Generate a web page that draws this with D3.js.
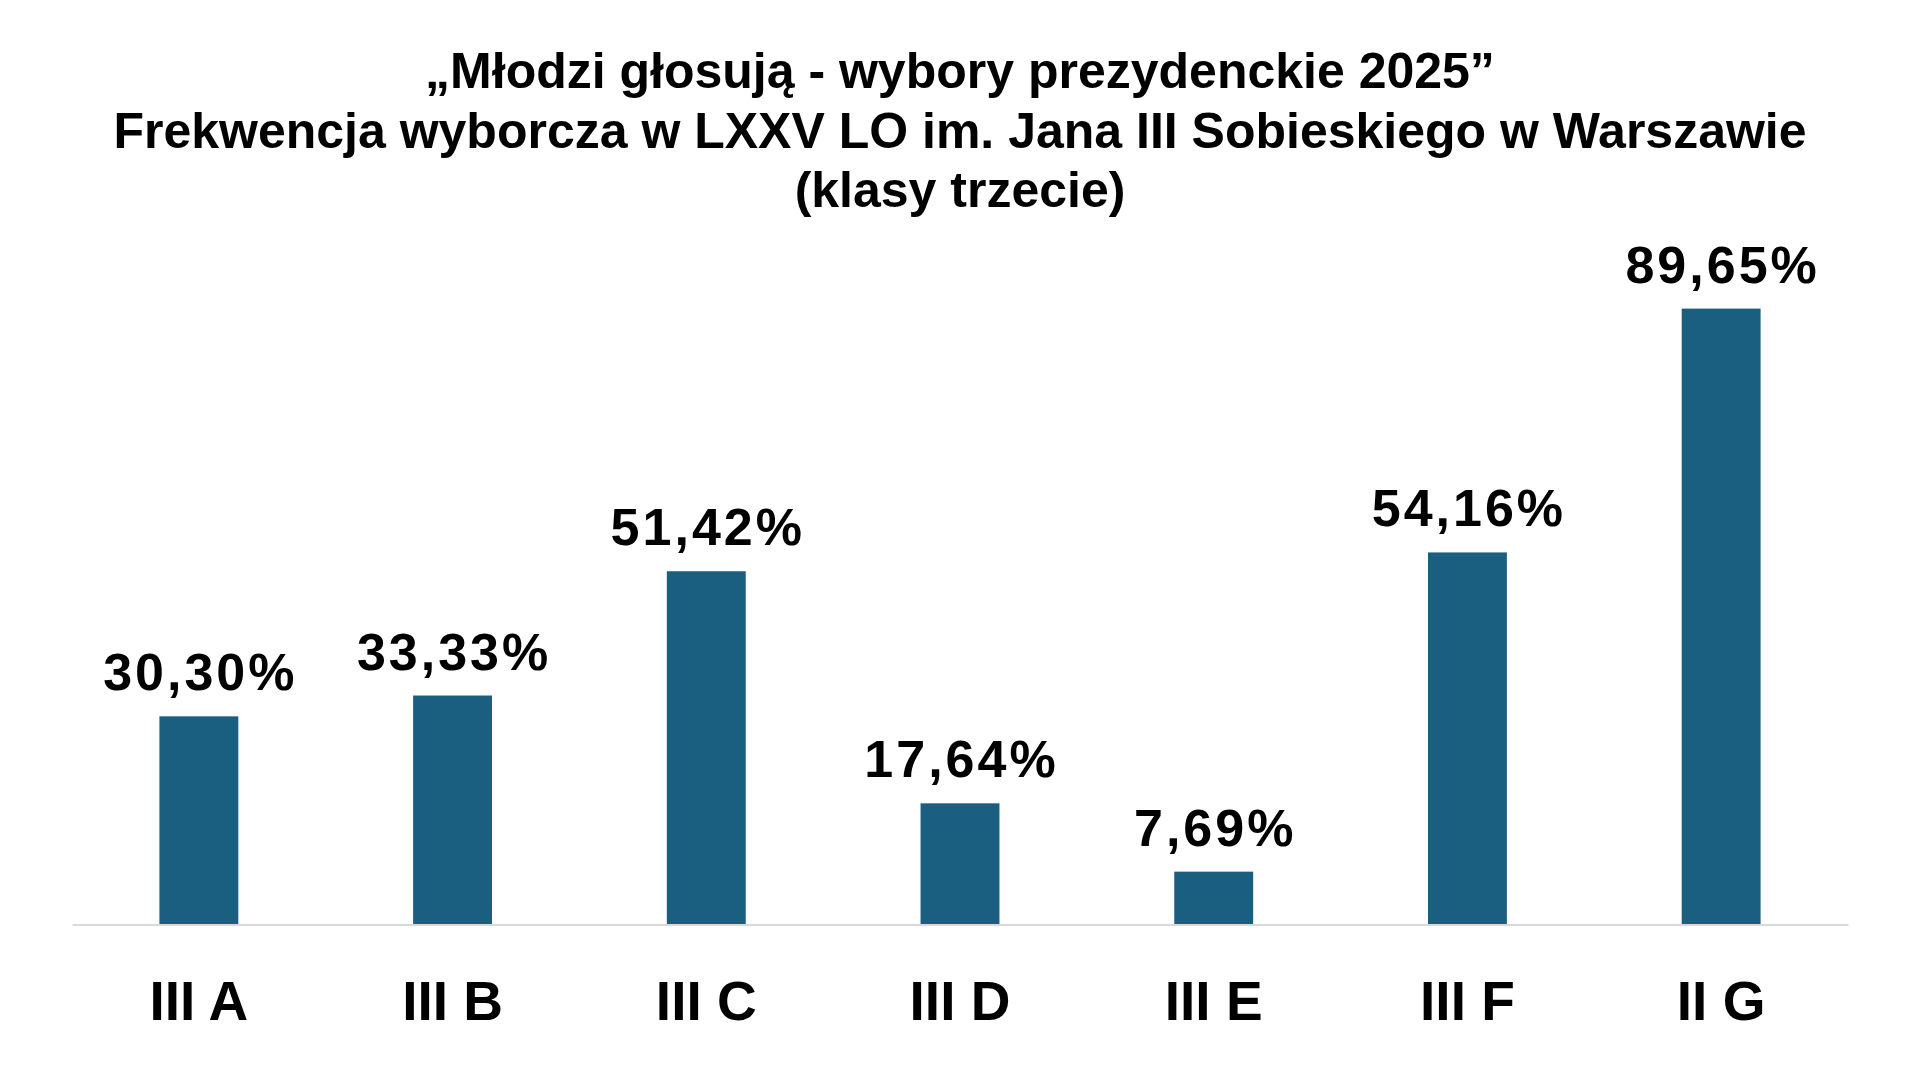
<!DOCTYPE html>
<html>
<head>
<meta charset="utf-8">
<script src="https://cdn.jsdelivr.net/npm/d3@7"></script>
<style>
  html, body { margin: 0; padding: 0; background: #ffffff; }
  svg { display: block; }
  text { font-family: "Liberation Sans", Arial, sans-serif; font-weight: bold; fill: #000; }
</style>
</head>
<body>
<svg id="chart" width="1919" height="1079"></svg>
<script>
const titleLines = [
  "„Młodzi głosują - wybory prezydenckie 2025”",
  "Frekwencja wyborcza w LXXV LO im. Jana III Sobieskiego w Warszawie",
  "(klasy trzecie)"
];
const categories = ["III A", "III B", "III C", "III D", "III E", "III F", "II G"];
const values = [30.30, 33.33, 51.42, 17.64, 7.69, 54.16, 89.65];
const valueLabels = ["30,30%", "33,33%", "51,42%", "17,64%", "7,69%", "54,16%", "89,65%"];

const svg = d3.select("#chart");
const W = 1919, H = 1079;
const left = 72, right = 1848, baseline = 924.5;

svg.append("rect").attr("width", W).attr("height", H).attr("fill", "#fff");

const x = d3.scaleBand()
  .domain(categories)
  .range([left, right])
  .paddingInner(0.689)
  .paddingOuter(0.3445);

const y = d3.scaleLinear()
  .domain([0, 100])
  .range([baseline, baseline - 687]);

// title
svg.append("g").selectAll("text")
  .data(titleLines)
  .join("text")
  .attr("x", W / 2 + 0.5)
  .attr("y", (d, i) => 88 + i * 59.5)
  .attr("text-anchor", "middle")
  .attr("font-size", 50)
  .text(d => d);

// bars
svg.append("g").selectAll("rect")
  .data(values)
  .join("rect")
  .attr("x", (d, i) => x(categories[i]))
  .attr("width", x.bandwidth())
  .attr("y", d => y(d))
  .attr("height", d => baseline - y(d))
  .attr("fill", "#1A5E80");

// axis
const xAxis = d3.axisBottom(x).tickSize(0).tickPadding(0);
const ax = svg.append("g")
  .attr("transform", `translate(0,${baseline})`)
  .call(xAxis);
ax.select(".domain").attr("stroke", "#d9d9d9").attr("stroke-width", 2);
ax.selectAll(".tick text")
  .attr("dy", null)
  .attr("y", 95)
  .attr("font-size", 55)
  .attr("font-family", "'Liberation Sans', Arial, sans-serif")
  .attr("font-weight", "bold")
  .attr("fill", "#000");

// value labels
svg.append("g").selectAll("text")
  .data(values)
  .join("text")
  .attr("x", (d, i) => x(categories[i]) + x.bandwidth() / 2 + 1.5)
  .attr("y", d => y(d) - 26)
  .attr("text-anchor", "middle")
  .attr("font-size", 52)
  .attr("letter-spacing", 3)
  .text((d, i) => valueLabels[i]);
</script>
</body>
</html>
